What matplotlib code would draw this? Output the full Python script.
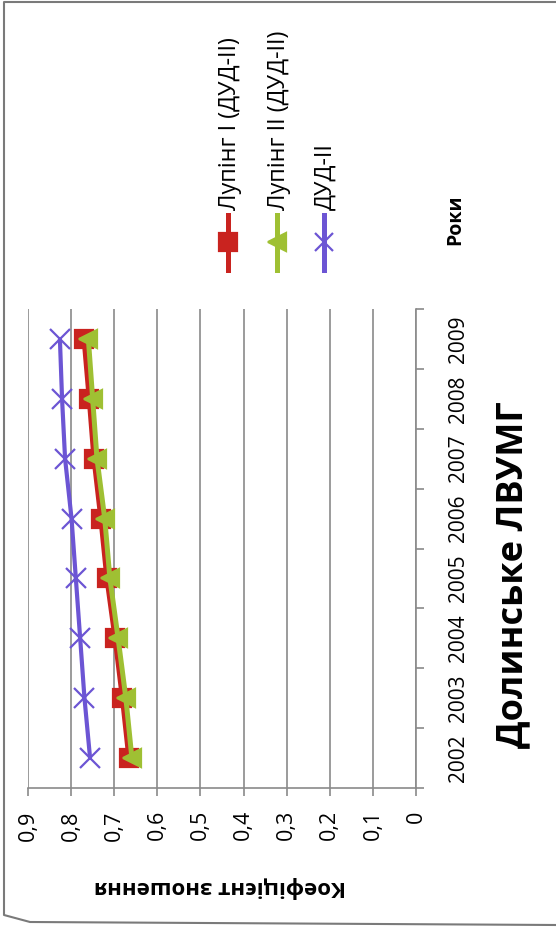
import matplotlib

matplotlib.use("Agg")
import matplotlib.pyplot as plt
from matplotlib.lines import Line2D

plt.rcParams["font.family"] = ["Open Sans", "DejaVu Sans"]

W, H = 556, 938

years = ["2002", "2003", "2004", "2005", "2006", "2007", "2008", "2009"]
luping1 = [0.666, 0.681, 0.698, 0.717, 0.731, 0.747, 0.758, 0.770]
luping2 = [0.659, 0.673, 0.691, 0.710, 0.722, 0.740, 0.750, 0.760]
dud2 = [0.756, 0.769, 0.779, 0.789, 0.799, 0.814, 0.821, 0.826]
series_names = ["Лупінг I (ДУД-II)", "Лупінг II (ДУД-II)", "ДУД-II"]
value_ticks = [0.9, 0.8, 0.7, 0.6, 0.5, 0.4, 0.3, 0.2, 0.1, 0.0]
value_labels = ["0,9", "0,8", "0,7", "0,6", "0,5", "0,4", "0,3", "0,2", "0,1", "0"]

colors = ["#c9231f", "#9fc033", "#6c55d4"]
markers = ["s", "<", "x"]
grid_c = "#8a8a8a"


def fx(px):
    return px / W


def fy(py):
    return 1 - py / H


fig = plt.figure(figsize=(W / 100, H / 100), dpi=100)
fig.patch.set_facecolor("white")

# chart is shown rotated: values run right-to-left, years run bottom-to-top
ax = fig.add_axes([fx(28), fy(788), fx(416) - fx(28), fy(309) - fy(788)])
idx = list(range(len(years)))

for vals, c, m, lw, ms in [(luping1, colors[0], markers[0], 3.6, 13),
                           (luping2, colors[1], markers[1], 3.6, 13),
                           (dud2, colors[2], markers[2], 3.0, 14)]:
    ax.plot(vals, idx, "-", color=c, lw=lw, marker=m, markersize=ms,
            markerfacecolor=c, markeredgecolor=c, markeredgewidth=1.6,
            solid_capstyle="butt", zorder=3)

ax.set_xlim(0.9, 0)
ax.set_ylim(-0.5, len(years) - 0.5)

ax.set_xticks(value_ticks)
ax.set_xticklabels(value_labels, rotation=90, fontsize=15.5)
ax.tick_params(axis="x", direction="out", length=6, width=1.2, color=grid_c, pad=10)
ax.grid(True, axis="x", color=grid_c, lw=1.2)

ax.yaxis.tick_right()
ax.set_yticks(idx)
ax.set_yticklabels(years, rotation=90, fontsize=15)
ax.set_yticks([i - 0.5 for i in range(len(years) + 1)], minor=True)
ax.tick_params(axis="y", which="major", length=0, pad=23)
ax.tick_params(axis="y", which="minor", direction="out", length=6, width=1.2, color=grid_c)
for lab in ax.get_yticklabels():
    lab.set_ha("left")
    lab.set_va("center")

for s in ["left", "top"]:
    ax.spines[s].set_visible(False)
for s in ["right", "bottom"]:
    ax.spines[s].set_color(grid_c)
    ax.spines[s].set_linewidth(1.2)

# axis titles and chart title
fig.text(fx(220), fy(887), "Коефіцієнт зношення", rotation=180, fontsize=16,
         fontweight="bold", ha="center", va="center")
fig.text(fx(455), fy(220), "Роки", rotation=90, fontsize=14,
         fontweight="bold", ha="center", va="center")
fig.text(fx(513), fy(575), "Долинське ЛВУМГ", rotation=90, fontsize=26,
         fontweight="bold", ha="center", va="center")

# legend, drawn rotated like the rest
for i, (name, c, m) in enumerate(zip(series_names, colors, markers)):
    x = [228, 277, 324][i]
    fig.add_artist(Line2D([fx(x)] * 3, [fy(270), fy(242.5), fy(215)], color=c, lw=3.6,
                          marker=m, markevery=[1], markersize=13, markerfacecolor=c,
                          markeredgecolor=c, markeredgewidth=1.6))
    fig.text(fx(x + 2), fy(210), name, rotation=90, fontsize=16.8,
             ha="center", va="bottom")

# scanned page border
fig.add_artist(Line2D([fx(556), fx(4), fx(4), fx(30), fx(556)],
                      [fy(2), fy(2), fy(915), fy(922), fy(925)],
                      color="#7a7a7a", lw=1.5))

fig.savefig("out.png", dpi=100)
